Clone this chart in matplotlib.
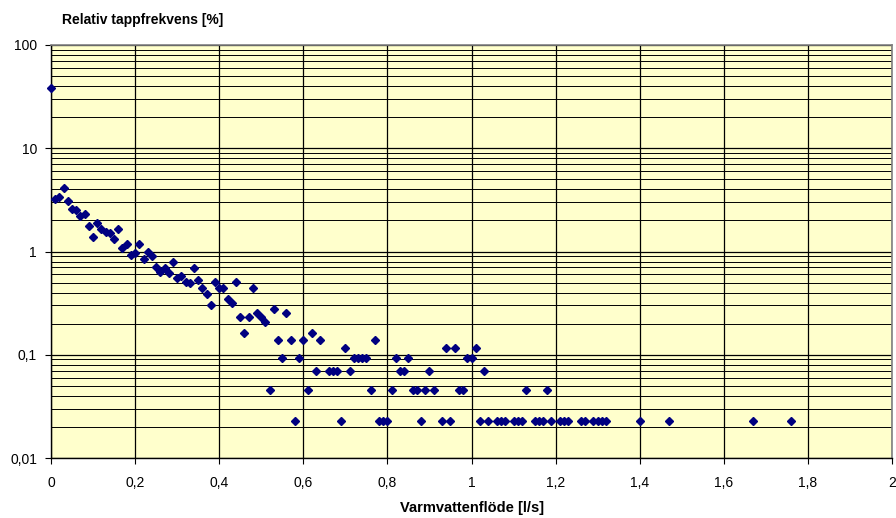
import matplotlib.pyplot as plt
from matplotlib.ticker import FixedLocator, LogLocator, NullFormatter

plt.rcParams['font.family'] = ['Liberation Sans', 'DejaVu Sans']

# Flow [l/s] and relative tap frequency [%]
flow = [0.00, 0.01, 0.02, 0.03, 0.04, 0.05, 0.06, 0.07, 0.08, 0.09,
        0.10, 0.11, 0.12, 0.13, 0.14, 0.15, 0.16, 0.17, 0.18, 0.19,
        0.20, 0.21, 0.22, 0.23, 0.24, 0.25, 0.26, 0.27, 0.28, 0.29,
        0.30, 0.31, 0.32, 0.33, 0.34, 0.35, 0.36, 0.37, 0.38, 0.39,
        0.40, 0.41, 0.42, 0.43, 0.44, 0.45, 0.46, 0.47, 0.48, 0.49,
        0.50, 0.51, 0.52, 0.53, 0.54, 0.55, 0.56, 0.57, 0.58, 0.59,
        0.60, 0.61, 0.62, 0.63, 0.64, 0.66, 0.67, 0.68, 0.69, 0.70,
        0.71, 0.72, 0.73, 0.74, 0.75, 0.76, 0.77, 0.78, 0.79, 0.80,
        0.81, 0.82, 0.83, 0.84, 0.85, 0.86, 0.87, 0.88, 0.89, 0.90,
        0.91, 0.93, 0.94, 0.95, 0.96, 0.97, 0.98, 0.99, 1.00, 1.01,
        1.02, 1.03, 1.04, 1.06, 1.07, 1.08, 1.10, 1.11, 1.12, 1.13,
        1.15, 1.16, 1.17, 1.18, 1.19, 1.21, 1.22, 1.23, 1.26, 1.27,
        1.29, 1.30, 1.31, 1.32, 1.40, 1.47, 1.67, 1.76]
freq = [38.7, 3.26, 3.4, 4.1, 3.1, 2.6, 2.5, 2.2, 2.3, 1.75,
        1.38, 1.9, 1.64, 1.55, 1.52, 1.31, 1.64, 1.08, 1.19, 0.93,
        0.97, 1.17, 0.85, 0.98, 0.90, 0.71, 0.64, 0.69, 0.62, 0.79,
        0.55, 0.58, 0.51, 0.49, 0.69, 0.53, 0.44, 0.39, 0.30, 0.51,
        0.44, 0.44, 0.35, 0.32, 0.51, 0.23, 0.161, 0.23, 0.44, 0.253,
        0.23, 0.207, 0.046, 0.276, 0.138, 0.092, 0.253, 0.138, 0.023, 0.092,
        0.138, 0.046, 0.161, 0.069, 0.138, 0.069, 0.069, 0.069, 0.023, 0.115,
        0.069, 0.092, 0.092, 0.092, 0.092, 0.046, 0.138, 0.023, 0.023, 0.023,
        0.046, 0.092, 0.069, 0.069, 0.092, 0.046, 0.046, 0.023, 0.046, 0.069,
        0.046, 0.023, 0.115, 0.023, 0.115, 0.046, 0.046, 0.092, 0.092, 0.115,
        0.023, 0.069, 0.023, 0.023, 0.023, 0.023, 0.023, 0.023, 0.023, 0.046,
        0.023, 0.023, 0.023, 0.046, 0.023, 0.023, 0.023, 0.023, 0.023, 0.023,
        0.023, 0.023, 0.023, 0.023, 0.023, 0.023, 0.023, 0.023]

x_ticks = [0, 0.2, 0.4, 0.6, 0.8, 1.0, 1.2, 1.4, 1.6, 1.8, 2.0]
x_labels = ['0', '0,2', '0,4', '0,6', '0,8', '1', '1,2', '1,4', '1,6', '1,8', '2']
y_ticks = [0.01, 0.1, 1, 10, 100]
y_labels = ['0,01', '0,1', '1', '10', '100']

fig = plt.figure(figsize=(8.96, 5.18), dpi=100)
ax = fig.add_axes([51 / 896, 60 / 518, 841 / 896, 413 / 518])
ax.set_facecolor('#FFFFCC')

ax.set_yscale('log')
ax.set_xlim(0, 2)
ax.set_ylim(0.01, 100)

ax.xaxis.set_major_locator(FixedLocator(x_ticks))
ax.set_xticklabels(x_labels)
ax.yaxis.set_major_locator(FixedLocator(y_ticks))
ax.set_yticklabels(y_labels)
ax.yaxis.set_minor_locator(LogLocator(base=10, subs=range(2, 10)))
ax.yaxis.set_minor_formatter(NullFormatter())

ax.grid(True, which='major', color='black', linewidth=0.9)
ax.grid(True, which='minor', axis='y', color='black', linewidth=0.7)
ax.set_axisbelow(True)

ax.tick_params(axis='both', which='major', direction='out', length=4,
               labelsize=10, color='black')
ax.tick_params(axis='x', which='major', pad=9)
ax.tick_params(axis='y', which='major', pad=6)
ax.tick_params(axis='y', which='minor', length=0)

for side in ['top', 'right']:
    ax.spines[side].set_color('#808080')
    ax.spines[side].set_linewidth(1.2)
for side in ['left', 'bottom']:
    ax.spines[side].set_color('black')
    ax.spines[side].set_linewidth(1.0)

ax.plot(flow, freq, linestyle='none', marker='D', markersize=4.5,
        color='#000080', clip_on=False, zorder=3)

fig.text(62 / 896, 1 - 20 / 518, 'Relativ tappfrekvens [%]', fontsize=10,
         fontweight='bold', ha='left', va='center')
fig.text(472 / 896, 1 - 508 / 518, 'Varmvattenflöde [l/s]', fontsize=10.5,
         fontweight='bold', ha='center', va='center')

fig.savefig('out.png', dpi=100)
